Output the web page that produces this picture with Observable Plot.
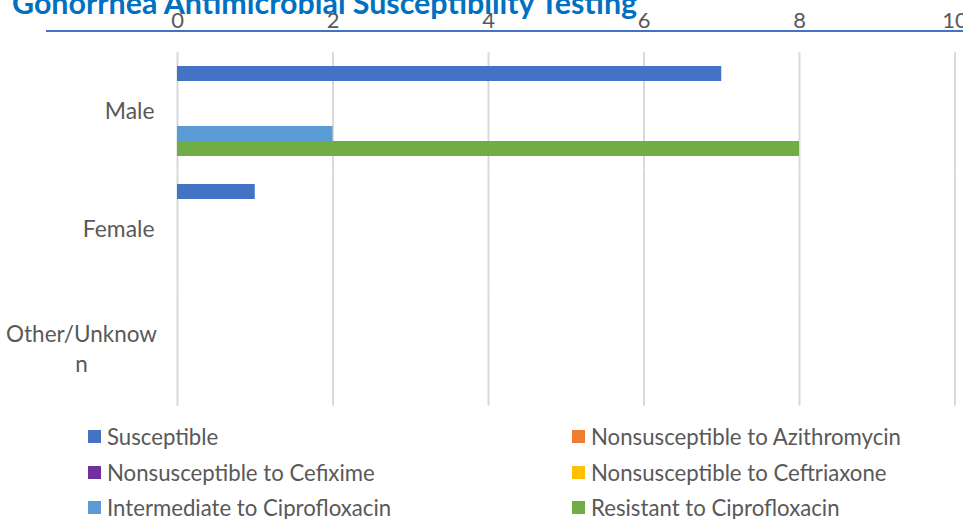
<!DOCTYPE html>
<html>
<head>
<meta charset="utf-8">
<script src="https://cdn.jsdelivr.net/npm/d3@7"></script>
<script src="https://cdn.jsdelivr.net/npm/@observablehq/plot@0.6"></script>
<style>
  html, body { margin: 0; padding: 0; background: #fff; }
  #wrap { position: relative; width: 963px; height: 519px; overflow: hidden; font-family: Lato, "Open Sans", sans-serif; }
  #title { position: absolute; left: 12px; top: -13px; font-size: 30.4px; line-height: 30px; font-weight: 700; color: #0070C0; white-space: nowrap; z-index: 2; }
  #rule { position: absolute; left: 46px; top: 30px; width: 917px; height: 2px; background: #4472C4; z-index: 1; }
  #chart { position: absolute; left: 0; top: 0; }
  #legend { position: absolute; left: 88px; top: 419px; display: grid; grid-template-columns: 484px 400px; grid-auto-rows: 35.5px; font-size: 22.2px; color: #595959; }
  .item { display: flex; align-items: center; white-space: nowrap; }
  .sw { width: 13px; height: 13px; margin-right: 6px; flex-shrink: 0; }
</style>
</head>
<body>
<div id="wrap">
  <div id="chart"></div>
  <div id="rule"></div>
  <div id="title">Gonorrhea Antimicrobial Susceptibility Testing</div>
  <div id="legend"></div>
</div>
<script>
const categories = ["Male", "Female", "Other/Unknown"];
const categoryLabels = ["Male", "Female", "Other/Unknow\nn"];
const series = [
  "Susceptible",
  "Nonsusceptible to Azithromycin",
  "Nonsusceptible to Cefixime",
  "Nonsusceptible to Ceftriaxone",
  "Intermediate to Ciprofloxacin",
  "Resistant to Ciprofloxacin"
];
const colors = ["#4472C4", "#ED7D31", "#7030A0", "#FFC000", "#5B9BD5", "#70AD47"];
const susceptible = [7, 1, 0];
const nonsusAzithromycin = [0, 0, 0];
const nonsusCefixime = [0, 0, 0];
const nonsusCeftriaxone = [0, 0, 0];
const intermediateCipro = [2, 0, 0];
const resistantCipro = [8, 0, 0];
const xTicks = [0, 2, 4, 6, 8, 10];

const valuesBySeries = [susceptible, nonsusAzithromycin, nonsusCefixime, nonsusCeftriaxone, intermediateCipro, resistantCipro];
const data = [];
categories.forEach((c, i) => series.forEach((s, j) => data.push({category: c, series: s, value: valuesBySeries[j][i]})));

const labelRows = categories.map((c, i) => ({category: c, label: categoryLabels[i]}));
const singleLine = labelRows.filter(d => !d.label.includes("\n"));
const multiLine = labelRows.filter(d => d.label.includes("\n"));

// half of the gap between facet bands, so gridlines run continuously
const bandGapHalf = -11.85;

const chart = Plot.plot({
  width: 963,
  height: 420,
  marginTop: 52,
  marginBottom: 12.75,
  marginLeft: 177,
  marginRight: 8.5,
  style: {fontFamily: "Lato, 'Open Sans', sans-serif", background: "transparent", overflow: "visible"},
  x: {domain: [0, 10], axis: null, label: null},
  y: {domain: series, axis: null, padding: 0},
  fy: {domain: categories, axis: null, paddingInner: 0.2, paddingOuter: 0.1},
  color: {domain: series, range: colors},
  marks: [
    Plot.ruleX(xTicks, {x: d => d, stroke: "#d9d9d9", strokeWidth: 2, insetTop: bandGapHalf, insetBottom: bandGapHalf}),
    Plot.barX(data, {x: "value", y: "series", fy: "category", fill: "series"}),
    Plot.axisX(xTicks, {anchor: "top", label: null, tickSize: 0, tickPadding: 36.5, fontSize: 22, fill: "#595959"}),
    Plot.text(singleLine, {fy: "category", text: "label", frameAnchor: "left", textAnchor: "end", dx: -23, fontSize: 22.9, fill: "#595959"}),
    Plot.text(multiLine, {fy: "category", text: "label", frameAnchor: "left", textAnchor: "middle", dx: -96, fontSize: 22.5, lineHeight: 1.35, fill: "#595959"})
  ]
});
document.getElementById("chart").appendChild(chart);

const legend = document.getElementById("legend");
series.forEach((s, j) => {
  const item = document.createElement("div");
  item.className = "item";
  const sw = document.createElement("span");
  sw.className = "sw";
  sw.style.background = colors[j];
  const t = document.createElement("span");
  t.textContent = s;
  item.appendChild(sw);
  item.appendChild(t);
  legend.appendChild(item);
});
</script>
</body>
</html>
